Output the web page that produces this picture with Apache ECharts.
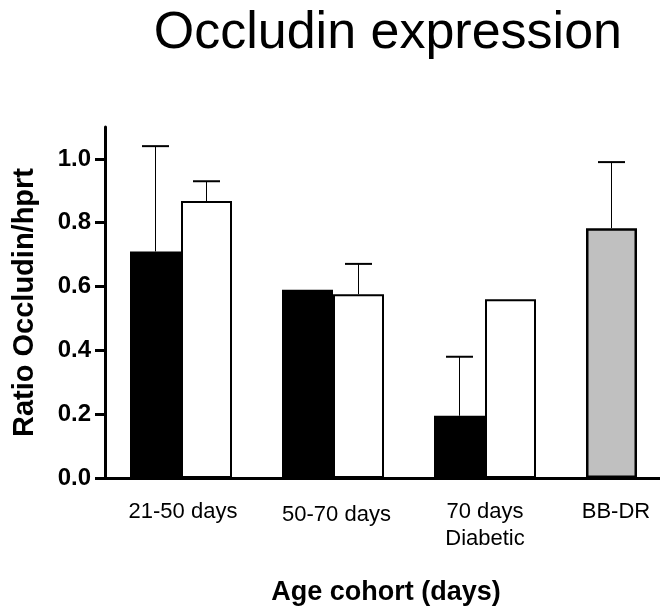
<!DOCTYPE html>
<html>
<head>
<meta charset="utf-8">
<script src="https://cdn.jsdelivr.net/npm/echarts@6/dist/echarts.min.js"></script>
<style>
  html, body { margin: 0; padding: 0; background: #fff; }
  #chart { width: 660px; height: 610px; }
</style>
</head>
<body>
<div id="chart"></div>
<script>
// Age cohorts on the x axis
const categories = ['21-50 days', '50-70 days', '70 days\nDiabetic', 'BB-DR'];
// Mean occludin/hprt ratio per cohort (filled = black bars, open = white bars)
const meanFilled = [0.71, 0.59, 0.195, null];
const meanOpen = [0.868, 0.576, 0.56, null];
const meanControl = [null, null, null, 0.783];
// Upper error (SEM) for each bar; null = no error bar drawn
const semFilled = [0.33, null, 0.185, null];
const semOpen = [0.062, 0.095, null, null];
const semControl = [null, null, null, 0.207];
// Y axis tick values
const yTicks = [0, 0.2, 0.4, 0.6, 0.8, 1.0];

const FONT = '"Liberation Sans", Arial, Helvetica, sans-serif';
const BAR_W = 51;

function errorData(means, sems) {
  const out = [];
  means.forEach((m, i) => {
    if (m != null && sems[i] != null) out.push([i, m, m + sems[i]]);
  });
  return out;
}

function errorSeries(data, offset) {
  return {
    type: 'custom',
    z: 10,
    silent: true,
    data: data,
    renderItem: function (params, api) {
      const base = api.coord([api.value(0), api.value(1)]);
      const top = api.coord([api.value(0), api.value(2)]);
      const x = base[0] + offset;
      const half = 13.5;
      return {
        type: 'group',
        children: [
          { type: 'line', shape: { x1: x, y1: base[1], x2: x, y2: top[1] },
            style: { stroke: '#000', lineWidth: 1 } },
          { type: 'line', shape: { x1: x - half, y1: top[1], x2: x + half, y2: top[1] },
            style: { stroke: '#000', lineWidth: 2 } }
        ]
      };
    }
  };
}

const chart = echarts.init(document.getElementById('chart'), null, { renderer: 'canvas' });

chart.setOption({
  animation: false,
  backgroundColor: '#ffffff',
  title: {
    text: 'Occludin expression',
    right: 38,
    top: 8,
    padding: 0,
    textStyle: { fontFamily: FONT, fontSize: 52, fontWeight: 'normal', color: '#000' }
  },
  grid: { left: 105, top: 127, width: 608, height: 351, containLabel: false, outerBoundsMode: 'none' },
  xAxis: {
    type: 'category',
    data: [
      { value: categories[0], textStyle: { padding: [0, 0, 0, 4] } },
      { value: categories[1], textStyle: { padding: [3, 0, 0, 7] } },
      { value: categories[2] },
      { value: categories[3], textStyle: { padding: [0, 42, 0, 0] } }
    ],
    name: 'Age cohort (days)',
    nameLocation: 'middle',
    nameGap: 101,
    nameTextStyle: { fontFamily: FONT, fontSize: 27, fontWeight: 'bold', color: '#000', padding: [0, 46, 0, 0] },
    axisLine: { show: true, lineStyle: { color: '#000', width: 3 } },
    axisTick: { show: false },
    axisLabel: { interval: 0, margin: 20, fontFamily: FONT, fontSize: 22, lineHeight: 27, color: '#000' },
    splitLine: { show: false }
  },
  yAxis: {
    type: 'value',
    min: 0,
    max: 1.1,
    name: 'Ratio Occludin/hprt',
    nameLocation: 'middle',
    nameGap: 66,
    nameTextStyle: { fontFamily: FONT, fontSize: 29, fontWeight: 'bold', color: '#000' },
    axisLine: { show: true, lineStyle: { color: '#000', width: 3 } },
    axisTick: { show: true, length: 10, customValues: yTicks, lineStyle: { color: '#000', width: 3 } },
    axisLabel: {
      customValues: yTicks,
      margin: 14,
      fontFamily: FONT, fontSize: 24, fontWeight: 'bold', color: '#000',
      formatter: v => v.toFixed(1)
    },
    splitLine: { show: false }
  },
  series: [
    {
      name: 'filled',
      type: 'bar',
      stack: 'left',
      barWidth: BAR_W,
      barGap: '0%',
      data: meanFilled,
      itemStyle: { color: '#000', borderColor: '#000', borderWidth: 2 }
    },
    {
      name: 'control',
      type: 'bar',
      stack: 'left',
      barWidth: BAR_W,
      barGap: '0%',
      data: meanControl,
      itemStyle: { color: '#c0c0c0', borderColor: '#000', borderWidth: 2.5 }
    },
    {
      name: 'open',
      type: 'bar',
      barWidth: BAR_W,
      barGap: '0%',
      data: meanOpen,
      itemStyle: { color: '#fff', borderColor: '#000', borderWidth: 2 }
    },
    errorSeries(errorData(meanFilled, semFilled), -BAR_W / 2),
    errorSeries(errorData(meanControl, semControl), -BAR_W / 2),
    errorSeries(errorData(meanOpen, semOpen), BAR_W / 2)
  ]
});
</script>
</body>
</html>
